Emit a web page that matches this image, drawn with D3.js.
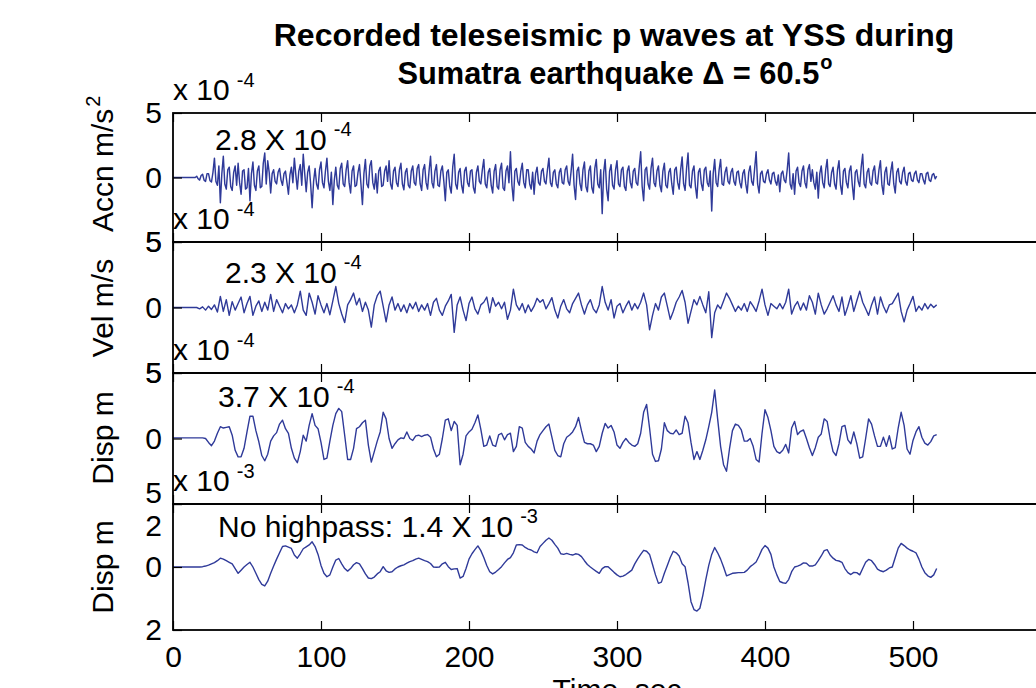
<!DOCTYPE html>
<html>
<head>
<meta charset="utf-8">
<script src="https://cdn.jsdelivr.net/npm/d3@7"></script>
<style>
  body { margin: 0; background: #fff; }
  svg { display: block; }
  text { font-family: "Liberation Sans", Arial, Helvetica, sans-serif; fill: #000; }
</style>
</head>
<body>
<svg id="chart" width="1036" height="688"></svg>
<script>
// Sample spacing of each trace, seconds
const accelStep = 1;
const sampleStep = 2;

// Acceleration, units of 1e-4 m/s^2 (1 s samples)
const accel = [
  0,0,0,0,0,0,0,0,0,0,0,0,0,0,0,0,
  0.1,-0.1,-0.2,0.15,0.25,-0.2,-0.3,0.3,0.3,-0.25,-0.35,0.4,
  1.5,-0.3,-0.6,0.9,-1.95,0.3,1.65,-0.5,
  -0.9,0.6,0.8,-0.7,-1.0,0.4,0.9,-0.6,
  1.1,-0.4,-1.3,0.5,0.6,-0.9,-0.8,0.7,-1.8,0.3,1.2,-0.6,
  -1.0,0.5,0.9,-0.8,-0.7,1.1,1.9,-0.5,1.3,0.4,-1.2,0.3,
  0.6,-0.3,-0.5,0.4,0.7,-0.2,-0.6,0.3,0.5,-0.4,-1.3,0.2,
  0.8,-0.4,1.5,0.2,-0.9,0.5,1.0,-0.6,1.8,0.3,-1.1,0.4,0.9,-0.5,
  -2.35,-0.3,
  0.7,-0.5,-0.9,0.6,1.2,-0.4,-0.8,0.5,1.5,-0.3,-1.0,0.4,-2.1,-0.2,0.8,-0.6,
  -0.9,0.7,1.1,-0.5,-0.7,0.6,1.3,-0.4,-1.2,0.5,0.9,-0.7,-0.6,0.4,1.0,-0.5,-2.1,0.3,
  1.4,-0.5,-0.8,0.9,1.3,-0.4,-0.9,0.3,-1.2,0.5,0.8,-0.7,-0.6,0.5,0.9,-0.3,1.3,-0.5,
  -0.9,0.5,0.8,-0.4,-0.7,0.6,1.1,-0.5,-0.95,0.4,0.7,-0.6,-0.8,0.5,0.9,-0.4,-0.6,0.7,1.0,-0.5,-1.0,0.6,1.0,-0.4,-0.9,0.5,
  1.65,-0.4,-0.8,0.5,1.0,-0.6,-0.7,0.5,0.9,-0.3,-1.8,0.4,
  0.6,-0.7,-1.2,0.8,1.8,-0.5,-0.9,0.4,0.7,-0.6,-1.2,0.5,
  0.8,-0.4,-0.7,0.5,0.6,-0.8,-1.2,0.4,0.9,-0.3,-0.5,0.6,1.4,-0.5,-0.8,0.4,0.7,-0.6,
  -1.2,0.5,1.0,-0.7,-0.9,0.6,1.1,-0.8,-1.0,0.5,0.9,-0.4,2.0,-0.6,-1.8,0.5,
  0.7,-0.3,-0.6,0.5,1.1,-0.4,-0.8,0.6,0.6,-0.5,-0.9,0.4,-1.3,0.3,0.8,-0.4,-0.6,0.5,0.7,-0.3,-0.5,0.6,1.5,-0.4,-0.7,0.4,
  0.6,-0.5,-0.8,0.4,0.7,-0.4,-0.5,0.6,0.9,-0.3,-0.6,0.5,1.8,-0.6,-1.7,0.5,0.8,-0.5,
  -1.0,0.6,1.2,-0.7,-1.1,0.5,0.9,-0.8,-1.2,0.7,1.4,-0.5,-0.8,0.6,-2.8,0.4,1.4,-0.9,-1.8,0.5,1.0,-0.6,
  -0.9,0.6,1.3,-0.5,-0.7,0.6,0.8,-0.7,-1.0,0.5,0.9,-0.4,-0.8,0.5,0.7,-0.4,-0.6,0.8,2.0,-0.7,-1.8,0.6,
  0.8,-0.5,-0.9,0.7,1.5,-0.4,-0.7,0.5,0.9,-0.6,-1.1,0.5,1.1,-0.6,-0.8,0.4,0.7,-0.5,-1.3,0.6,0.8,-0.4,-0.9,0.6,1.6,-0.5,-1.0,0.7,
  1.9,-0.6,-0.8,0.5,0.9,-0.7,-1.6,0.4,0.7,-0.5,-1.0,0.6,0.8,-0.4,-0.7,0.5,-2.6,0.3,1.4,-0.4,
  -0.7,0.6,1.4,-0.5,-0.6,0.4,0.8,-0.3,-0.5,0.4,0.7,-0.3,-0.6,0.4,0.5,-0.4,-0.8,0.3,0.6,-0.5,-1.2,0.4,0.9,-0.3,-0.6,0.7,2.0,-0.5,
  -1.2,0.3,0.5,-0.3,-0.4,0.3,0.6,-0.2,-0.5,0.3,0.4,-0.3,-0.6,0.2,-1.1,0.3,0.5,-0.2,-0.4,0.6,1.9,-0.5,
  -0.9,0.3,-1.3,0.5,0.8,-0.4,-0.7,0.5,0.9,-0.4,-0.8,0.6,1.0,-0.3,0.6,-0.4,-0.9,0.4,-1.6,0.3,
  0.9,-0.4,-0.8,0.6,1.4,-0.5,-0.7,0.4,0.8,-0.5,-0.9,0.6,1.3,-0.6,-1.3,0.5,0.7,-0.4,-0.8,0.5,0.9,-0.6,-1.7,0.4,0.6,-0.3,-0.7,0.8,1.8,-0.5,
  -0.8,0.4,0.7,-0.4,-0.6,0.5,0.9,-0.4,-0.5,0.6,1.3,-0.6,-1.3,0.4,0.8,-0.5,-0.6,0.5,1.2,-0.5,-1.2,0.4,0.7,-0.3,-0.5,0.4,0.8,-0.3,-0.6,0.3,
  0.4,-0.2,-0.3,0.3,0.5,-0.2,-0.4,0.3,0.3,-0.2,-0.5,0.3,0.4,-0.2,-0.3,0.2,0.3,-0.1,0.1
];

// Velocity, units of 1e-4 m/s (2 s samples)
const vel = [
  0,0,0,0,0,0,0,0,0,
  -0.1,0.05,-0.2,0.1,-0.15,
  0.2,-0.35,0.85,-0.3,
  0.6,-0.6,0.45,-0.2,0.3,0.8,-0.4,0.3,
  0.85,-0.6,0.1,0.5,-0.3,0.4,-0.2,1.0,
  -0.3,0.6,0.1,-0.4,0.3,-0.1,0.2,-0.4,0.2,
  1.25,-0.2,-0.6,1.1,0.4,
  -0.5,0.9,0.2,-0.4,0.3,-0.55,0.5,1.6,
  0.3,-0.5,-1.15,0.2,0.6,1.1,0.2,
  0.7,-0.3,0.4,-0.2,-1.5,0.2,0.9,
  1.25,0.1,-1.1,0.2,0.8,-0.2,
  0.3,-0.3,0.2,-0.4,0.3,-0.1,0.4,-0.3,0.2,-0.2,0.3,-0.6,
  0.4,0.7,-0.2,-0.6,0.1,
  0.5,1.0,-1.9,0.2,0.8,-0.2,-1.0,
  0.3,0.8,-0.1,-0.5,0.2,0.4,0.8,-0.4,
  0.75,0.1,0.4,-0.1,0.4,-0.9,-0.2,1.4,
  0.2,-0.2,0.3,-0.4,0.2,-0.3,0.1,0.7,
  0.4,0.6,-0.1,0.3,0.75,-0.2,-0.8,0.1,0.6,
  -0.1,-0.4,0.3,0.7,1.1,0.2,-0.5,0.2,0.6,
  -0.1,-0.4,0.2,1.6,0.4,-0.2,0.6,-0.8,0.1,
  0.3,-0.4,0.1,0.5,-0.2,0.3,-0.1,0.4,1.1,
  0.2,-1.7,-0.6,0.3,-0.2,0.8,1.1,
  0.1,-0.9,-0.3,0.4,0.8,1.3,0.4,
  -1.2,-0.3,0.6,0.2,0.85,
  0.2,-0.4,1.2,-2.3,-0.4,
  0.2,-0.1,0.5,1.1,0.7,0.2,-0.3,0.1,-0.2,0.3,
  -0.3,0.45,0.1,-0.3,0.5,1.4,0.2,-0.6,
  0.3,0.1,-0.1,0.3,-0.1,0.4,1.4,-0.5,
  0.1,0.45,-0.2,0.35,-0.2,0.9,0.4,-0.5,1.1,
  0.2,-0.5,-0.1,0.4,0.9,0.2,-0.3,0.8,-0.6,
  0.1,0.9,-0.3,0.5,1.25,0.4,-0.1,-0.6,
  0.2,0.8,-0.5,0.8,0.1,-0.4,0.2,0.3,
  0.7,1.1,-0.3,-1.1,-0.2,0.3,0.85,
  -0.3,0.1,-0.2,0.3,-0.1,0.25,0.0,0.2
];

// Displacement (high-passed), units of 1e-4 m (2 s samples)
const disp = [
  0.05,0.05,0.05,0.05,0.05,0.05,0.05,0.05,0.05,0.05,
  0.05,0.0,-0.3,-0.55,-0.2,0.4,0.9,0.8,0.85,0.9,
  0.25,-0.9,-1.4,-1.4,-0.75,0.5,1.7,1.7,0.6,-0.25,
  -1.3,-1.7,-1.2,-0.2,0.2,0.45,1.1,1.4,0.75,0.4,
  -0.75,-1.5,-1.85,-1.0,0.25,-0.2,1.0,1.9,1.0,0.75,
  -0.3,-1.6,-1.5,-0.2,1.0,1.9,2.3,2.05,0.25,-1.6,
  -1.6,-0.75,0.75,0.9,1.2,1.4,-0.5,-1.8,-1.0,-0.2,
  0.5,2.0,1.5,0.0,-0.75,-0.4,-0.1,0.05,0.0,0.5,
  0.0,-0.15,0.2,0.25,0.15,0.25,0.3,0.1,-0.8,-1.4,
  -1.2,0.0,1.4,1.5,0.6,1.3,1.0,-2.0,-1.2,0.2,
  0.5,0.7,1.2,1.8,0.7,-0.6,-0.5,0.2,-0.5,-0.6,
  0.27,0.4,-0.1,0.3,0.4,-1.0,-0.6,0.9,0.8,-0.3,
  -0.6,-0.8,-1.1,-0.2,0.3,0.6,0.9,1.1,0.1,-0.9,
  -1.3,-1.4,-0.4,0.1,0.27,0.5,0.9,1.6,0.6,-0.3,
  -0.4,-0.4,-0.5,-1.0,-0.6,0.4,1.15,0.8,1.0,0.5,
  -0.5,-0.75,-0.3,0.0,-0.3,-0.5,-0.6,-0.4,0.4,2.0,
  2.6,0.8,-1.2,-1.75,-1.7,-0.8,1.2,0.6,0.4,0.35,
  0.65,0.3,0.4,1.7,1.2,-0.3,-1.6,-1.0,-1.6,-0.9,
  -0.1,0.9,2.0,3.7,1.5,-0.6,-2.0,-2.5,-0.8,0.6,
  1.1,1.0,0.65,-0.2,-0.2,0.0,-0.6,-1.6,-1.8,0.4,
  2.2,1.6,0.6,-0.6,-1.0,-1.13,-0.9,-0.45,-1.1,0.8,
  1.3,0.3,0.55,0.65,0.0,-0.7,-1.3,-0.7,0.1,0.35,
  1.5,1.3,0.0,-1.0,-1.3,-0.4,0.9,1.0,-0.1,-0.4,
  0.5,-0.37,-1.5,-1.4,0.0,1.5,1.1,0.2,-0.6,-0.6,
  0.1,-0.6,0.22,-0.8,-0.7,0.8,2.0,1.0,-0.8,-1.2,
  -0.15,0.5,0.9,0.1,-0.35,-0.5,-0.24,0.2,0.3
];

// Displacement without high-pass filter, units of 1e-3 m (2 s samples)
const dispRaw = [
  0,0,0,0,0,0,0,0,0,0,
  0.01,0.03,0.06,0.1,0.14,0.2,0.28,0.25,0.2,0.15,
  0.1,-0.05,-0.2,-0.1,0.0,0.08,0.15,0.0,-0.2,-0.4,
  -0.55,-0.6,-0.45,-0.2,0.03,0.25,0.45,0.65,0.67,0.63,
  0.59,0.38,0.28,0.42,0.58,0.64,0.7,0.8,0.65,0.4,
  0.05,-0.2,-0.31,-0.25,0.0,0.22,0.27,0.1,-0.05,-0.13,
  -0.05,0.07,0.14,0.1,-0.05,-0.22,-0.35,-0.37,-0.32,-0.22,
  -0.15,0.01,-0.12,-0.17,-0.15,-0.06,0.0,0.04,0.07,0.12,
  0.17,0.2,0.25,0.28,0.24,0.2,0.17,0.11,0.0,-0.01,
  0.0,0.1,0.15,0.01,-0.08,-0.06,-0.05,-0.35,-0.3,-0.05,
  0.25,0.42,0.55,0.67,0.52,0.3,0.05,-0.15,-0.22,-0.16,
  -0.08,0.01,0.13,0.24,0.3,0.45,0.7,0.71,0.7,0.62,
  0.57,0.54,0.48,0.45,0.65,0.75,0.85,0.92,0.85,0.72,
  0.6,0.42,0.4,0.43,0.4,0.38,0.42,0.4,0.33,0.2,
  0.08,0.0,-0.07,-0.14,-0.2,-0.05,0.01,0.01,-0.08,-0.17,
  -0.25,-0.31,-0.29,-0.24,-0.17,-0.1,0.1,0.26,0.4,0.53,
  0.5,0.4,0.08,-0.25,-0.52,-0.48,-0.2,0.05,0.3,0.5,
  0.45,0.35,0.1,0.01,-0.5,-1.1,-1.35,-1.4,-1.31,-0.9,
  -0.4,0.05,0.4,0.62,0.45,0.25,0.0,-0.28,-0.24,-0.2,
  -0.19,-0.18,-0.18,-0.17,-0.1,0.01,0.08,0.16,0.35,0.56,
  0.68,0.6,0.4,0.0,-0.25,-0.46,-0.5,-0.52,-0.4,-0.15,
  0.0,0.03,0.07,0.13,0.12,0.03,0.03,0.07,0.2,0.35,
  0.52,0.55,0.38,0.28,0.21,0.19,0.15,-0.05,-0.18,-0.24,
  -0.17,-0.18,-0.25,-0.05,0.15,0.24,0.2,0.08,-0.07,-0.12,
  -0.15,-0.1,-0.03,0.0,0.3,0.6,0.75,0.68,0.6,0.54,
  0.5,0.45,0.25,0.0,-0.18,-0.28,-0.33,-0.25,-0.05
];

const timeTicks = [0, 100, 200, 300, 400, 500, 600];
const titleLines = ["Recorded teleseismic p waves at YSS during", "Sumatra earthquake \u0394 = 60.5"];
const yLabels = ["Accn m/s", "Vel m/s", "Disp m", "Disp m"];
const exponents = ["-4", "-4", "-4", "-3"];
const peakNotes = ["2.8 X 10", "2.3 X 10", "3.7 X 10", "No highpass: 1.4 X 10"];
const yLimits = [5, 5, 5, 2];

const traceColor = "#2f3a99";
const font = '"Liberation Sans", Arial, Helvetica, sans-serif';

const svg = d3.select("#chart");
const left = 173, right = 1061;
const x = d3.scaleLinear().domain([0, 600]).range([left, right]);

// vertical extent of each panel
const bounds = [[113, 242], [242, 373], [373, 504], [504, 630]];
const noteX = [215, 225, 218, 218];
const noteOffset = [37, 41, 34, 33];
// small shifts applied to a few tick labels so neighbouring panels' labels do not collide
const tickNudge = [{}, {}, {"-5": -11}, {"2": 22}];

const series = [accel, vel, disp, dispRaw];
const steps = [accelStep, sampleStep, sampleStep, sampleStep];
const strokeWidths = [1.45, 1.4, 1.4, 1.4];

series.forEach((values, k) => {
  const [top, bottom] = bounds[k];
  const lim = yLimits[k];
  const y = d3.scaleLinear().domain([-lim, lim]).range([bottom, top]);
  const g = svg.append("g");

  // trace
  const line = d3.line()
    .x((d, i) => x(i * steps[k]))
    .y(d => y(d));
  g.append("path")
    .datum(values)
    .attr("fill", "none")
    .attr("stroke", traceColor)
    .attr("stroke-width", strokeWidths[k])
    .attr("stroke-linejoin", "round")
    .attr("d", line);

  // box
  g.append("rect")
    .attr("x", left).attr("y", top)
    .attr("width", right - left).attr("height", bottom - top)
    .attr("fill", "none").attr("stroke", "#000").attr("stroke-width", 1.8);

  // y axis (ticks inside, labels without sign)
  const yAxis = d3.axisLeft(y)
    .tickValues([-lim, 0, lim])
    .tickSize(-9)
    .tickPadding(11)
    .tickFormat(d => String(Math.abs(d)));
  const ya = g.append("g").attr("transform", `translate(${left},0)`).call(yAxis);
  ya.select(".domain").remove();
  ya.selectAll(".tick line").attr("stroke", "#000").attr("stroke-width", 1.2);
  ya.selectAll(".tick text")
    .attr("font-size", 30).attr("font-family", font).attr("fill", "#000")
    .attr("dy", d => (tickNudge[k][String(d)] || 0) + 9.6);

  // x ticks on top and bottom edges, pointing inward
  const xa1 = g.append("g").attr("transform", `translate(0,${top})`)
    .call(d3.axisTop(x).tickValues(timeTicks).tickSize(-9).tickFormat(""));
  const isLast = k === series.length - 1;
  const xa2 = g.append("g").attr("transform", `translate(0,${bottom})`)
    .call(d3.axisBottom(x).tickValues(timeTicks).tickSize(-9).tickPadding(16)
      .tickFormat(isLast ? d => String(d) : ""));
  [xa1, xa2].forEach(a => {
    a.select(".domain").remove();
    a.selectAll(".tick line").attr("stroke", "#000").attr("stroke-width", 1.2);
    a.selectAll(".tick text").attr("font-size", 30).attr("font-family", font).attr("fill", "#000");
  });

  // power-of-ten multiplier above the panel
  const ex = svg.append("text")
    .attr("x", left).attr("y", top - 13)
    .attr("font-size", 30);
  ex.append("tspan").text("x 10");
  ex.append("tspan").attr("font-size", 20).attr("dx", 7).attr("dy", -13).text(exponents[k]);

  // peak amplitude note
  const nt = svg.append("text")
    .attr("x", noteX[k]).attr("y", top + noteOffset[k])
    .attr("font-size", 30);
  nt.append("tspan").text(peakNotes[k]);
  nt.append("tspan").attr("font-size", 20).attr("dx", 7).attr("dy", -14).text(exponents[k]);
});

// y-axis titles (rotated)
const labelPos = [
  { y: 232, anchor: "start" },
  { y: 308, anchor: "middle" },
  { y: 438, anchor: "middle" },
  { y: 567, anchor: "middle" }
];
yLabels.forEach((lab, k) => {
  const t = svg.append("text")
    .attr("transform", `translate(113,${labelPos[k].y}) rotate(-90)`)
    .attr("text-anchor", labelPos[k].anchor)
    .attr("font-size", 30);
  t.append("tspan").text(lab);
  if (k === 0) t.append("tspan").attr("font-size", 20).attr("dx", 2).attr("dy", -13).text("2");
});

// x-axis title
svg.append("text")
  .attr("x", (left + right) / 2).attr("y", 700)
  .attr("text-anchor", "middle").attr("font-size", 30)
  .text("Time, sec");

// title
svg.append("text")
  .attr("x", 614).attr("y", 46)
  .attr("text-anchor", "middle").attr("font-size", 32).attr("font-weight", "bold")
  .text(titleLines[0]);
const t2 = svg.append("text")
  .attr("x", 615).attr("y", 84)
  .attr("text-anchor", "middle").attr("font-size", 30.8).attr("font-weight", "bold");
t2.append("tspan").text(titleLines[1]);
t2.append("tspan").attr("font-size", 20).attr("dx", 1).attr("dy", -15).text("o");
</script>
</body>
</html>
